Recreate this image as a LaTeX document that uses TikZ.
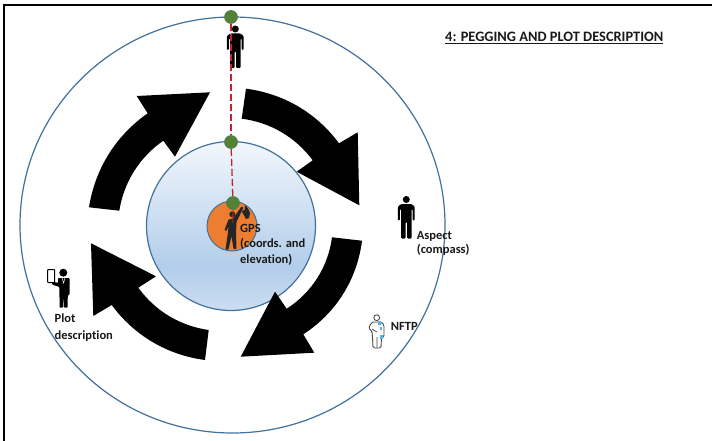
\documentclass[tikz,border=0pt]{standalone}
\usepackage{fontspec}
\usetikzlibrary{shapes.geometric}
\setmainfont{Carlito}[Ligatures=CommonOff]
\definecolor{ringblue}{HTML}{41719C}
\definecolor{orangedisc}{HTML}{ED7D31}
\definecolor{greendot}{HTML}{548235}
\definecolor{pegred}{HTML}{C5222B}
\definecolor{balltop}{HTML}{F2F7FC}
\definecolor{ballmid}{HTML}{B2CDEA}
\definecolor{ballbot}{HTML}{CCDEF1}
\definecolor{nftpblue}{HTML}{4FB6EA}
\pgfdeclareverticalshading{ballshade}{100bp}{color(0bp)=(ballbot); color(25bp)=(ballbot); color(38bp)=(ballmid); color(75bp)=(balltop); color(100bp)=(balltop)}
\tikzset{
  ring/.style={circle,draw=ringblue,line width=1.2pt,inner sep=0pt},
  dot/.style={circle,fill=greendot,draw=greendot!70!ringblue,line width=.6pt,minimum size=13pt,inner sep=0pt},
  peg/.style={draw=pegred,line width=1.3pt,dash pattern=on 7pt off 3pt},
  bigarrow/.style={fill=black,draw=none},
  lab/.style={font=\bfseries\fontsize{12.5}{15}\selectfont,anchor=base west,inner sep=0pt,align=left,text=black!90},
  stander/.pic={
    \fill[black] (0,3.5) circle (3.5);
    \fill[black,rounded corners=1pt] (-5,8)--(5,8)--(8.4,10.5)--(8.4,24.5)--(6.4,24.5)--(6.4,13)--(5.2,13)--(5.2,42.5)--(0.7,42.5)--(0.7,26)--(-0.7,26)--(-0.7,42.5)--(-5.2,42.5)--(-5.2,13)--(-6.4,13)--(-6.4,24.5)--(-8.4,24.5)--(-8.4,10.5)--cycle;
  }
}
\begin{document}
\begin{tikzpicture}[x=1pt,y=-1pt]
\useasboundingbox (0,0) rectangle (712,441);
\fill[white] (0,0) rectangle (712,441);
% frame
\draw[black,line width=2pt] (712,5)--(4,5)--(4,441);
% circles
\node[ellipse,draw=ringblue,line width=1.2pt,inner sep=0pt,minimum width=425pt,minimum height=416pt] (outer) at (232.5,225) {};
\node[ring,minimum size=169pt,shading=ballshade,shading angle=0] (inner) at (231,226) {};
\node[ring,fill=orangedisc,minimum size=50pt,line width=1pt] (core) at (232,226) {};
% big arrows
\fill[bigarrow] (246,88.7) to[bend left=23,looseness=.9] (339,143.3) -- (357.7,132.3) -- (359.3,205.3) -- (296.7,171.7) -- (312.7,160.3) to[bend right=23,looseness=.9] (241.7,118.7) -- cycle;
\fill[bigarrow] (362,240.7) to[bend left=25,looseness=.9] (303.3,334.3) -- (314.3,352.7) -- (240.7,356.7) -- (275,291.7) -- (286.7,308.7) to[bend right=25,looseness=.9] (332,237.3) -- cycle;
\fill[bigarrow] (205,360) to[bend left=23,looseness=.9] (111.7,305) -- (93.3,316) -- (91,243.3) -- (156,276.3) -- (138.3,287.7) to[bend right=23,looseness=.9] (208.7,330) -- cycle;
\fill[bigarrow] (89,207.3) to[bend left=23,looseness=.9] (147.7,113.3) -- (136.7,96) -- (210,92.3) -- (175,156.7) -- (163.3,140.7) to[bend right=23,looseness=.9] (119.3,210.7) -- cycle;
% top and aspect persons
\pic at (235.3,25.5) {stander};
\pic at (406.3,196) {stander};
% GPS person
\fill[black!85] (232.3,214.3) circle (3);
\fill[black!85,rounded corners=.6pt] (228.5,219.5)--(233,218.5)--(241.5,206.5)--(243.5,207.5)--(236.5,222)--(236,233)--(236.5,249)--(233.5,249)--(231.5,236)--(228.5,249.5)--(225.5,249.5)--(228,232)--(228.5,226)--(226.5,231)--(224.5,230)--cycle;
\fill[black!85] (245,205)--(248,208.5)--(250,213)--(249,218)--(246,219)--(243.5,214.5)--(241.5,211)--(244.5,210)--cycle;
% pegging line
\coordinate (gpsbody) at (232.8,223);
\node[dot] (g1) at (231,17) {};
\node[dot] (g2) at (231,142) {};
\node[dot] (g3) at (233,203) {};
\draw[peg] (g1) -- (g2);
\draw[peg] (g2) -- (g3);
\draw[pegred,line width=.8pt] (g3) -- (gpsbody);
% plot description person
\fill[black] (63.3,272.7) circle (4);
\fill[black,rounded corners=.8pt] (58,278)--(69.5,278)--(69.5,295)--(67.8,295)--(67.6,307.7)--(64,307.7)--(63.6,295)--(63,307.7)--(59.6,307.7)--(59.4,287)--(52,284.5)--(52.5,281.5)--(58,283)--cycle;
\draw[white,line width=.5pt] (62,278)--(63.6,283)--(65,278);
\draw[black,line width=1pt,fill=white,rounded corners=.8pt] (47.6,269.5) rectangle (54.6,282.5);
% NFTP person
\draw[black!70,line width=.9pt,fill=white] (376.7,317.7) circle (2.9);
\draw[black!70,line width=.9pt,fill=white,rounded corners=1.5pt] (372,322)--(381.5,322)--(384,325)--(384,337)--(381.5,337)--(381,348)--(373,348)--(372.5,337)--(372,331)--(368.5,328)--cycle;
\draw[black!70,line width=.7pt] (377,337)--(377,348) (372,329)--(377,332);
\fill[nftpblue] (378,321) rectangle (381,325) (380,327) rectangle (382,330) (380,335) rectangle (383,339);
% labels
\node[lab,font=\bfseries\fontsize{14.4}{17}\selectfont] (title) at (445,41.7) {\underline{4: PEGGING AND PLOT DESCRIPTION}};
\node[lab] (gps1) at (240,232.3) {GPS};
\node[lab] (gps2) at (240,247.7) {(coords. and};
\node[lab] (gps3) at (240,263.3) {elevation)};
\node[lab] (asp1) at (416.7,239) {Aspect};
\node[lab] (asp2) at (416.7,253) {(compass)};
\node[lab] (nftp) at (390.7,330.7) {NFTP};
\node[lab] (plot1) at (54.5,322.7) {Plot};
\node[lab] (plot2) at (54.5,339) {description};
\end{tikzpicture}
\end{document}
